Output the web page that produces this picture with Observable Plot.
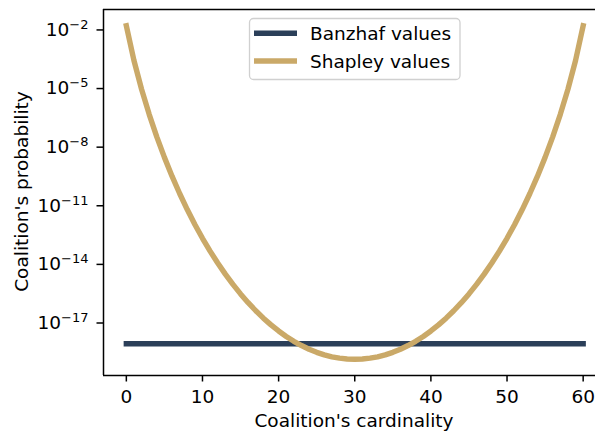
<!DOCTYPE html>
<html><head><meta charset="utf-8">
<script src="https://cdn.jsdelivr.net/npm/d3@7"></script>
<script src="https://cdn.jsdelivr.net/npm/@observablehq/plot@0.6"></script>
<style>body{margin:0;background:#fff}</style>
</head><body><div id="chart"></div>
<script>
// ---- data ----
const cardinality = [0,1,2,3,4,5,6,7,8,9,10,11,12,13,14,15,16,17,18,19,20,21,22,23,24,25,26,27,28,29,30,
  31,32,33,34,35,36,37,38,39,40,41,42,43,44,45,46,47,48,49,50,51,52,53,54,55,56,57,58,59,60];
// log10 of Shapley coalition probability per cardinality
const shapleyLog10 = [-1.785,-3.564,-5.033,-6.320,-7.473,-8.523,-9.485,-10.372,-11.193,-11.955,-12.663,
  -13.320,-13.931,-14.499,-15.025,-15.511,-15.960,-16.373,-16.752,-17.096,-17.408,-17.688,-17.936,-18.154,
  -18.342,-18.501,-18.630,-18.730,-18.801,-18.844,-18.858,-18.844,-18.801,-18.730,-18.630,-18.501,-18.342,
  -18.154,-17.936,-17.688,-17.408,-17.096,-16.752,-16.373,-15.960,-15.511,-15.025,-14.499,-13.931,-13.320,
  -12.663,-11.955,-11.193,-10.372,-9.485,-8.523,-7.473,-6.320,-5.033,-3.564,-1.785];
// log10 of Banzhaf coalition probability (constant)
const banzhafCardinality = [0, 60];
const banzhafLog10 = [-18.062, -18.062];
const xTicks = [0, 10, 20, 30, 40, 50, 60];
const yTickExponents = [-2, -5, -8, -11, -14, -17];
const seriesNames = ["Banzhaf values", "Shapley values"];
const seriesColors = ["#2b3f59", "#caa968"];
const xLabel = "Coalition's cardinality";
const yLabel = "Coalition's probability";

// ---- build tables ----
const shapley = cardinality.map((c, i) => ({x: c, y: 10 ** shapleyLog10[i]}));
const banzhaf = banzhafCardinality.map((c, i) => ({x: c, y: 10 ** banzhafLog10[i]}));

const W = 595, H = 434;
const yTop = 10 ** -0.954, yBot = 10 ** -19.687;
const FS = 18.5;

const plot = Plot.plot({
  width: W, height: H,
  marginLeft: 103, marginTop: 9, marginBottom: 59, marginRight: 0,
  style: {fontFamily: "DejaVu Sans", fontSize: FS + "px", background: "#fff", color: "#000", overflow: "visible"},
  x: {domain: [-3, 61.62]},
  y: {type: "log", domain: [yBot, yTop]},
  marks: [
    Plot.lineY(banzhaf, {x: "x", y: "y", stroke: seriesColors[0], strokeWidth: 5.4, strokeLinecap: "square"}),
    Plot.lineY(shapley, {x: "x", y: "y", stroke: seriesColors[1], strokeWidth: 5.4, strokeLinecap: "square", strokeLinejoin: "round"}),
    Plot.axisX({ticks: xTicks, tickSize: 6.5, tickPadding: 8, label: null, fontSize: FS, strokeWidth: 1.5}),
    Plot.axisY({ticks: yTickExponents.map(e => 10 ** e), tickSize: 6.5, tickPadding: 8.5, label: null,
      fontSize: FS, strokeWidth: 1.5, tickFormat: d => "10^" + Math.round(Math.log10(d))}),
    Plot.ruleX([-3], {stroke: "#000", strokeWidth: 1.5}),
    Plot.ruleY([yTop], {stroke: "#000", strokeWidth: 1.5}),
    Plot.ruleY([yBot], {stroke: "#000", strokeWidth: 1.5})
  ]
});

const svg = d3.select(plot);
// superscript exponents
svg.selectAll('g[aria-label="y-axis tick label"] text').each(function() {
  const m = this.textContent.match(/^10\^(-?\d+)$/);
  if (m) {
    const el = d3.select(this);
    el.text("10");
    el.append("tspan").attr("dy", -7).attr("font-size", 13).text(m[1].replace("-", "\u2212"));
  }
});

// axis labels
svg.append("text").attr("x", 354).attr("y", 427).attr("text-anchor", "middle")
  .attr("font-family", "DejaVu Sans").attr("font-size", FS).attr("fill", "#000").text(xLabel);
svg.append("text").attr("transform", "translate(28,191.5) rotate(-90)").attr("text-anchor", "middle")
  .attr("font-family", "DejaVu Sans").attr("font-size", FS).attr("fill", "#000").text(yLabel);

// legend
const lg = svg.append("g");
lg.append("rect").attr("x", 249.5).attr("y", 18.5).attr("width", 210.5).attr("height", 61).attr("rx", 4)
  .attr("fill", "#fff").attr("fill-opacity", 0.8).attr("stroke", "#d0d0d0").attr("stroke-width", 1.3);
const legendY = [33.3, 61];
seriesNames.forEach((name, i) => {
  lg.append("line").attr("x1", 254).attr("x2", 297).attr("y1", legendY[i]).attr("y2", legendY[i])
    .attr("stroke", seriesColors[i]).attr("stroke-width", 5.4);
  lg.append("text").attr("x", 310).attr("y", legendY[i] + 6.8).attr("text-anchor", "start")
    .attr("font-family", "DejaVu Sans").attr("font-size", FS).attr("fill", "#000").text(name);
});

document.getElementById("chart").appendChild(plot);
</script>
</body></html>
